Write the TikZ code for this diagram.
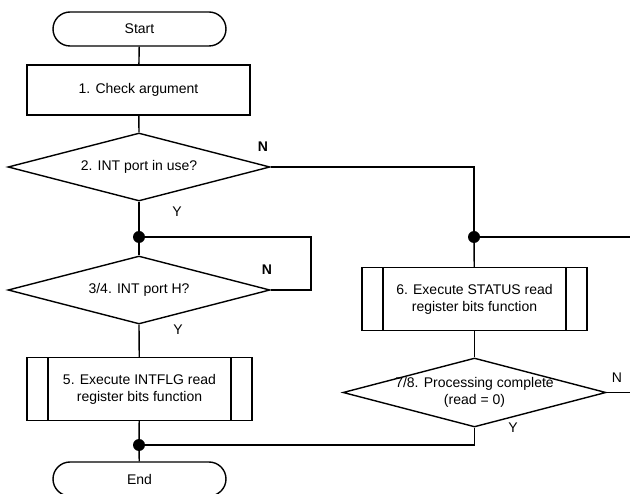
\documentclass[tikz,border=0pt]{standalone}
\usepackage{fontspec}
\setmainfont{Liberation Sans}
\usetikzlibrary{shapes.geometric}
\begin{document}
\begin{tikzpicture}[x=1pt,y=-1pt,
  every node/.style={font=\fontsize{14}{17}\selectfont},
  flow/.style={line width=1.4pt},
  terminal/.style={draw,line width=1.4pt,rounded corners=17pt,minimum width=173pt,minimum height=34pt,inner sep=0pt},
  procbox/.style={draw,line width=1.4pt,minimum width=223pt,minimum height=50pt,inner sep=0pt},
  subproc/.style={draw,line width=1.4pt,minimum width=225pt,minimum height=63pt,inner sep=0pt,align=center,
    path picture={
      \draw[line width=1.4pt] ([xshift=21pt]path picture bounding box.north west) -- ([xshift=21pt]path picture bounding box.south west);
      \draw[line width=1.4pt] ([xshift=-21pt]path picture bounding box.north east) -- ([xshift=-21pt]path picture bounding box.south east);}},
  decision/.style={draw,line width=1.4pt,diamond,minimum width=262pt,minimum height=68pt,inner sep=0pt},
  junction/.style={circle,fill=black,minimum size=12pt,inner sep=0pt},
  yn/.style={inner sep=0pt}
]
\useasboundingbox (0,0) rectangle (630,494);

% left column
\node[terminal] (start) at (139.5,29) {Start};
\node[procbox] (b1) at (138.5,90) {1. Check argument};
\node[decision,label={center:2. INT port in use?}] (d2) at (139,167) {};
\node[junction] (j1) at (139,237) {};
\node[decision,label={center:3/4. INT port H?}] (d3) at (139,290) {};
\node[subproc] (b5) at (139.5,389) {5. Execute INTFLG read\\register bits function};
\node[junction] (j3) at (139,445) {};
\node[terminal] (end) at (139.5,479) {End};

% right column
\node[junction] (j2) at (474,237) {};
\node[subproc] (b6) at (474.5,299) {6. Execute STATUS read\\register bits function};
\node[decision,minimum width=263pt,minimum height=69pt,
  label={[align=center,font=\fontsize{14}{16.5}\selectfont]center:7/8. Processing complete\\(read = 0)}] (d78) at (474.5,392.5) {};

\coordinate (c3) at (311,290);
\coordinate (e2) at (631,237);
\coordinate (e78) at (631,392.5);

% connectors
\draw[flow] (start) -- (b1);
\draw[flow] (b1) -- (d2.north);
\draw[flow] (d2.south) -- (j1);
\draw[flow] (j1) -- (d3.north);
\draw[flow] (d3.east) -- (c3) |- (j1);
\draw[flow] (d3.south) -- (b5);
\draw[flow] (b5) -- (j3);
\draw[flow] (j3) -- (end);
\draw[flow] (d2.east) -| (j2);
\draw[flow] (j2) -- (e2);
\draw[flow] (j2) -- (b6);
\draw[flow] (b6) -- (d78.north);
\draw[flow] (d78.east) -- (e78);
\draw[flow] (d78.south) |- (j3);

% branch labels
\node[yn,font=\fontsize{14}{17}\selectfont\bfseries] (n2) at (263,147) {N};
\node[yn] (y2) at (177,212) {Y};
\node[yn,font=\fontsize{14}{17}\selectfont\bfseries] (n3) at (267,270) {N};
\node[yn] (y3) at (178,330) {Y};
\node[yn] (n78) at (617,378) {N};
\node[yn] (y78) at (513,428) {Y};
\end{tikzpicture}
\end{document}
